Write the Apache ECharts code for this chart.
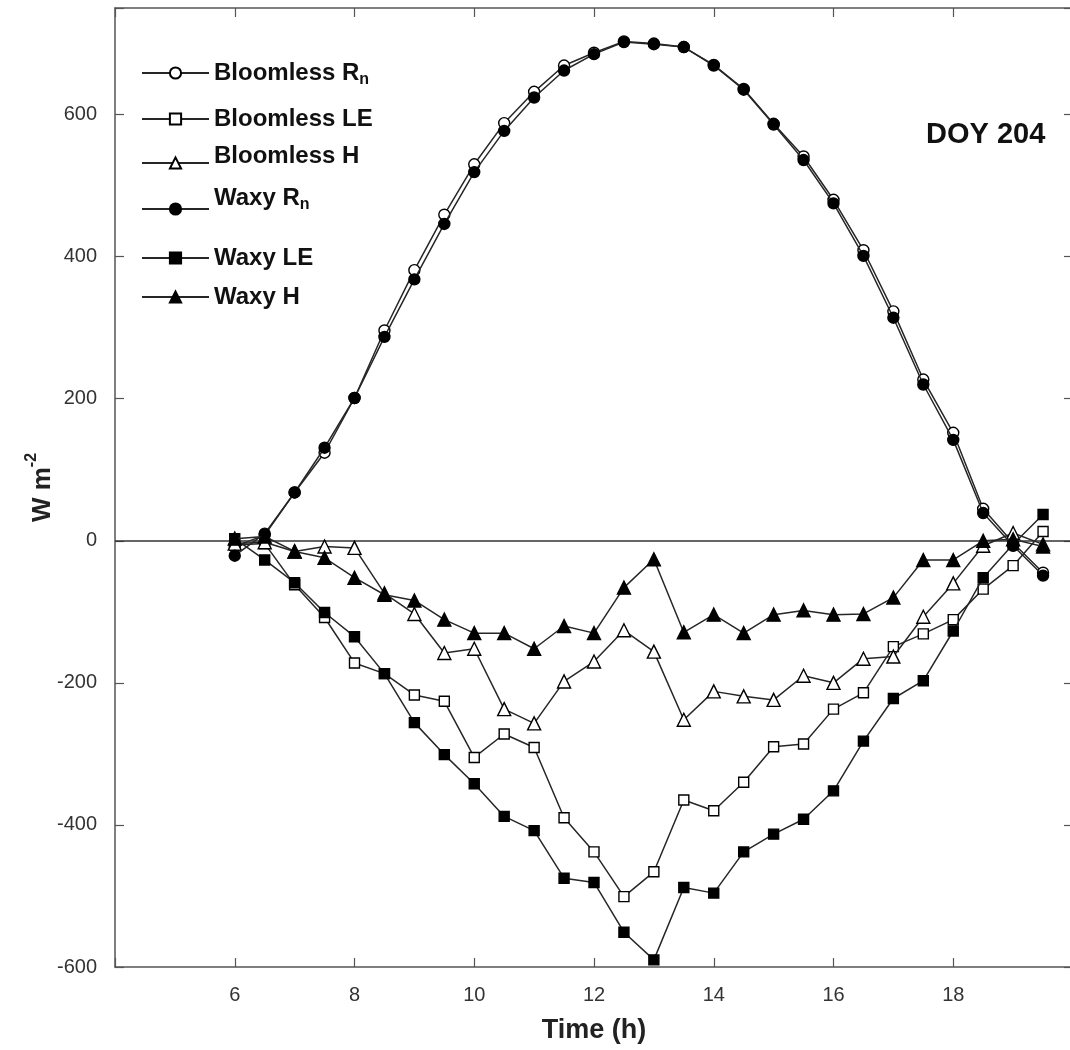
<!DOCTYPE html>
<html>
<head>
<meta charset="utf-8">
<script src="https://cdn.jsdelivr.net/npm/echarts@6/dist/echarts.min.js"></script>
<style>
  html, body { margin: 0; padding: 0; background: #fff; }
  #chart { width: 1070px; height: 1050px; }
</style>
</head>
<body>
<div id="chart"></div>
<script>
// Half-hourly energy balance components, DOY 204
const hours = [6, 6.5, 7, 7.5, 8, 8.5, 9, 9.5, 10, 10.5, 11, 11.5, 12, 12.5,
               13, 13.5, 14, 14.5, 15, 15.5, 16, 16.5, 17, 17.5, 18, 18.5, 19, 19.5];

const bloomlessRn = [-8, 8, 68, 124, 201, 296, 381, 459, 530, 588, 632, 669, 687, 703,
                     700, 695, 670, 636, 587, 541, 480, 409, 323, 227, 152, 45, -3, -45];
const bloomlessLE = [-6, -4, -62, -108, -172, -187, -217, -226, -305, -272, -291, -390, -438, -501,
                     -466, -365, -380, -340, -290, -286, -237, -214, -149, -131, -111, -68, -35, 13];
const bloomlessH  = [-4, -2, -15, -8, -10, -74, -103, -158, -152, -237, -257, -198, -170, -126,
                     -156, -252, -212, -219, -224, -190, -200, -166, -163, -107, -60, -7, 11, -5];
const waxyRn      = [-21, 10, 68, 131, 201, 287, 368, 446, 519, 577, 624, 662, 685, 702,
                     699, 695, 669, 635, 586, 536, 475, 401, 314, 220, 142, 39, -7, -49];
const waxyLE      = [3, -27, -59, -101, -135, -187, -256, -301, -342, -388, -408, -475, -481, -551,
                     -590, -488, -496, -438, -413, -392, -352, -282, -222, -197, -127, -52, -5, 37];
const waxyH       = [3, 6, -15, -24, -52, -76, -84, -111, -130, -130, -152, -120, -130, -66,
                     -26, -129, -104, -130, -104, -98, -104, -103, -80, -27, -27, 0, 2, -8];

const xTicks = [6, 8, 10, 12, 14, 16, 18];
const yTicks = [-600, -400, -200, 0, 200, 400, 600];

const FONT = '"Liberation Sans", Arial, sans-serif';
const AXIS_COLOR = '#555';

const seriesDefs = [
  { name: 'Bloomless Rn', values: bloomlessRn, symbol: 'circle',   filled: false, size: 11 },
  { name: 'Bloomless LE', values: bloomlessLE, symbol: 'rect',     filled: false, size: 10 },
  { name: 'Bloomless H',  values: bloomlessH,  symbol: 'triangle', filled: false, size: 13 },
  { name: 'Waxy Rn',      values: waxyRn,      symbol: 'circle',   filled: true,  size: 11 },
  { name: 'Waxy LE',      values: waxyLE,      symbol: 'rect',     filled: true,  size: 10 },
  { name: 'Waxy H',       values: waxyH,       symbol: 'triangle', filled: true,  size: 13 }
];

// vertical centre of each legend sample line, and how far its label sits above that line
const legendRows = [
  { line: 72,  lift: 0 },
  { line: 118, lift: 0 },
  { line: 162, lift: 7 },
  { line: 208, lift: 11 },
  { line: 257, lift: 0 },
  { line: 296, lift: 0 }
];

function isRn(name) { return name.endsWith(' Rn'); }

function legendLabel(name) {
  if (isRn(name)) {
    return '{m|' + name.slice(0, -1) + '}{s|n}';
  }
  return '{m|' + name + '}';
}

const series = seriesDefs.map(function (d, i) {
  const s = {
    name: d.name,
    type: 'line',
    data: hours.map(function (h, k) { return [h, d.values[k]]; }),
    symbol: d.symbol,
    symbolSize: d.size,
    showAllSymbol: true,
    color: '#222',
    lineStyle: { color: '#262626', width: 1.5 },
    itemStyle: {
      color: d.filled ? '#000' : '#fff',
      borderColor: '#000',
      borderWidth: 1.4
    },
    emphasis: { disabled: true },
    animation: false,
    z: 3 + i
  };
  if (i === 0) {
    s.markLine = {
      silent: true,
      symbol: ['none', 'none'],
      label: { show: false },
      lineStyle: { color: '#333', width: 1.5, type: 'solid' },
      data: [{ yAxis: 0 }],
      animation: false
    };
  }
  return s;
});

const legends = seriesDefs.map(function (d, i) {
  const row = legendRows[i];
  const h = (isRn(d.name) ? 30 : 26) + row.lift * 2;
  return {
    data: [d.name],
    left: 141,
    top: row.line - h / 2 + (isRn(d.name) ? 4 : 2),
    padding: 0,
    orient: 'horizontal',
    itemWidth: 67,
    itemHeight: 14,
    itemGap: 0,
    selectedMode: false,
    formatter: legendLabel,
    textStyle: {
      padding: [0, 0, row.lift * 2, 0],
      rich: {
        m: { fontFamily: FONT, fontSize: 24, fontWeight: 'bold', color: '#111', lineHeight: 26 },
        s: { fontFamily: FONT, fontSize: 16, fontWeight: 'bold', color: '#111', lineHeight: 30, verticalAlign: 'bottom' }
      }
    }
  };
});

const axisLineStyle = { color: AXIS_COLOR, width: 1.5 };
const tickStyle = { inside: true, length: 9, lineStyle: { color: AXIS_COLOR, width: 1.2 } };

const option = {
  backgroundColor: '#fff',
  animation: false,
  grid: { left: 115, top: 8, width: 958, height: 959, containLabel: false, outerBoundsMode: 'none' },
  legend: legends,
  xAxis: [
    {
      type: 'value', min: 4, max: 20, interval: 2, position: 'bottom',
      axisLine: { onZero: false, lineStyle: axisLineStyle },
      axisTick: tickStyle,
      splitLine: { show: false },
      axisLabel: {
        margin: 18, fontFamily: FONT, fontSize: 20, color: '#333',
        formatter: function (v) { return xTicks.indexOf(v) >= 0 ? String(v) : ''; }
      },
      name: 'Time (h)', nameLocation: 'middle', nameGap: 50, nameMoveOverlap: false,
      nameTextStyle: { fontFamily: FONT, fontSize: 27, fontWeight: 'bold', color: '#222' }
    },
    {
      type: 'value', min: 4, max: 20, interval: 2, position: 'top',
      axisLine: { onZero: false, lineStyle: axisLineStyle },
      axisTick: tickStyle,
      splitLine: { show: false },
      axisLabel: { show: false }
    }
  ],
  yAxis: [
    {
      type: 'value', min: -600, max: 750, interval: 200, position: 'left',
      axisLine: { show: true, onZero: false, lineStyle: axisLineStyle },
      axisTick: tickStyle,
      splitLine: { show: false },
      axisLabel: {
        margin: 18, fontFamily: FONT, fontSize: 20, color: '#333',
        formatter: function (v) { return yTicks.indexOf(v) >= 0 ? String(v) : ''; }
      },
      name: '{m|W m}{s|-2}', nameLocation: 'middle', nameGap: 59, nameRotate: 90,
      nameMoveOverlap: false,
      nameTextStyle: {
        rich: {
          m: { fontFamily: FONT, fontSize: 26, fontWeight: 'bold', color: '#222', lineHeight: 32, verticalAlign: 'bottom' },
          s: { fontFamily: FONT, fontSize: 16, fontWeight: 'bold', color: '#222', lineHeight: 18, verticalAlign: 'top' }
        }
      }
    },
    {
      type: 'value', min: -600, max: 750, interval: 200, position: 'right',
      axisLine: { show: true, onZero: false, lineStyle: axisLineStyle },
      axisTick: tickStyle,
      splitLine: { show: false },
      axisLabel: { show: false }
    }
  ],
  graphic: [
    {
      type: 'text', left: 926, top: 120, silent: true,
      style: { text: 'DOY 204', font: 'bold 29px ' + FONT, fill: '#111' }
    }
  ],
  series: series
};

const chart = echarts.init(document.getElementById('chart'), null, { renderer: 'canvas' });
chart.setOption(option);
</script>
</body>
</html>
